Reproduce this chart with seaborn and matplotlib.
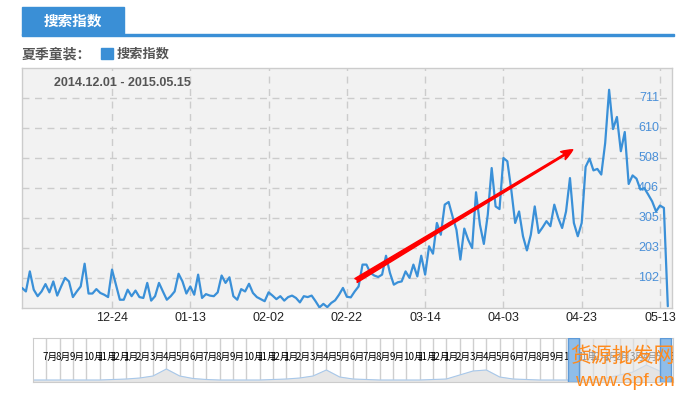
import numpy as np
import pandas as pd
import matplotlib
matplotlib.use("Agg")
import matplotlib.pyplot as plt
import matplotlib.dates as mdates
import matplotlib.transforms as mtransforms
from matplotlib.patches import Rectangle, FancyArrowPatch
import seaborn as sns

# daily search index 2014-12-01 .. 2015-05-15
search_index = [
    68, 56, 124, 62, 40, 56, 81, 53, 90, 42,
    73, 102, 90, 37, 56, 73, 150, 49, 49, 64,
    51, 45, 37, 130, 79, 28, 28, 62, 40, 59,
    37, 34, 85, 25, 40, 85, 56, 28, 40, 56,
    116, 90, 49, 73, 45, 113, 34, 47, 42, 40,
    53, 110, 85, 104, 40, 28, 64, 56, 82, 51,
    37, 30, 23, 53, 42, 30, 40, 25, 37, 42,
    34, 19, 40, 37, 42, 23, 2, 14, 3, 17,
    26, 45, 68, 38, 36, 56, 73, 147, 147, 119,
    110, 105, 113, 177, 119, 79, 87, 90, 124, 102,
    147, 107, 177, 113, 209, 184, 288, 248, 350, 359,
    310, 265, 164, 269, 231, 203, 392, 282, 217, 316,
    474, 344, 335, 508, 497, 401, 288, 327, 243, 195,
    248, 344, 254, 273, 294, 277, 350, 305, 271, 327,
    440, 288, 243, 288, 478, 506, 466, 471, 452, 559,
    739, 606, 647, 531, 596, 420, 449, 438, 401, 406,
    384, 361, 327, 347, 339, 6,
]
start_date = "2014-12-01"
tick_dates = ["2014-12-24", "2015-01-13", "2015-02-02", "2015-02-22",
              "2015-03-14", "2015-04-03", "2015-04-23", "2015-05-13"]
y_ticks = [101.6, 203.2, 304.8, 406.4, 508.0, 609.6, 711.2]
y_labels = ["102", "203", "305", "406", "508", "610", "711"]
y_max = 812.8

# red trend arrow drawn on the chart
trend_start = ("2015-02-24 08:00", 93)
trend_end = ("2015-04-20 17:00", 536)

# navigator strip: month labels and the tiny overview curve
nav_labels = ["7月", "8月", "9月", "10月", "11月", "12月",
              "1月", "2月", "3月", "4月", "5月", "6月"] * 4
nav_values = [1, 1, 1, 1, 1, 1, 1.5, 2, 3, 5, 12, 5, 2.5, 1.5, 1, 1, 1,
              1, 1.5, 2, 3, 5, 11, 4, 2, 1.5, 1, 1, 1, 1, 1.5, 2, 6, 10,
              11, 4, 2, 1.5, 1, 1, 1, 1, 1.5, 3, 6, 9, 16, 10, 2]

BLUE = "#3a8fd6"
LINE = "#3a90d8"
W, H = 687, 399


def box(x0, y0, x1, y1):
    return [x0 / W, 1 - y1 / H, (x1 - x0) / W, (y1 - y0) / H]


sns.set_style("white")
plt.rcParams["font.family"] = ["Liberation Sans", "Noto Sans CJK SC", "DejaVu Sans"]
cjk = ["Noto Sans CJK SC", "DejaVu Sans"]

fig = plt.figure(figsize=(W / 100, H / 100), dpi=100)

# header tab + rule
fig.patches.append(Rectangle((22 / W, 1 - 35 / H), 102 / W, 28 / H,
                             transform=fig.transFigure, color=BLUE))
fig.patches.append(Rectangle((22 / W, 1 - 36 / H), 652 / W, 2 / H,
                             transform=fig.transFigure, color=BLUE))
fig.text(73 / W, 1 - 21 / H, "搜索指数", color="white", fontsize=10.5,
         weight="bold", ha="center", va="center", family=cjk)
fig.text(22 / W, 1 - 54 / H, "夏季童装：", color="#555555", fontsize=10,
         weight="bold", ha="left", va="center", family=cjk)
fig.patches.append(Rectangle((101 / W, 1 - 59 / H), 12 / W, 11 / H,
                             transform=fig.transFigure, color=BLUE))
fig.text(117 / W, 1 - 54 / H, "搜索指数", color="#555555", fontsize=9.5,
         weight="bold", ha="left", va="center", family=cjk)

# main chart
dates = pd.date_range(start_date, periods=len(search_index), freq="D")
df = pd.DataFrame({"date": dates, "value": search_index})

ax = fig.add_axes(box(22, 68, 672, 308))
ax.set_facecolor("#f2f2f2")
sns.lineplot(data=df, x="date", y="value", ax=ax, color=LINE, linewidth=1.6, zorder=3)
ax.set_xlim(dates[0], dates[0] + pd.Timedelta(days=166.07))
ax.set_ylim(0, y_max)
ax.set_xticks(pd.to_datetime(tick_dates))
ax.xaxis.set_major_formatter(mdates.DateFormatter("%m-%d"))
ax.set_yticks(y_ticks)
ax.set_axisbelow(True)
ax.grid(True, color="#cccccc", linestyle=(0, (5, 4)), linewidth=1)
ax.tick_params(length=0, labelsize=9, colors="#222222", pad=3)
ax.tick_params(axis="y", labelleft=False)
ax.set_xlabel("")
ax.set_ylabel("")
for s in ax.spines.values():
    s.set_color("#cccccc")
    s.set_linewidth(1)

trans = mtransforms.blended_transform_factory(ax.transAxes, ax.transData)
for v, lab in zip(y_ticks, y_labels):
    ax.text(0.98, v, lab, transform=trans, ha="right", va="center",
            color="#4a90d9", fontsize=9, zorder=2)

ax.text(0.049, 0.9375, "2014.12.01 - 2015.05.15", transform=ax.transAxes,
        fontsize=9, weight="bold", color="#555555", va="center")

arrow = FancyArrowPatch(
    (mdates.date2num(pd.Timestamp(trend_start[0])), trend_start[1]),
    (mdates.date2num(pd.Timestamp(trend_end[0])), trend_end[1]),
    arrowstyle="fancy,head_length=0.75,head_width=0.6,tail_width=0.3",
    mutation_scale=11, color="#ff0000", zorder=4, shrinkA=0, shrinkB=0)
ax.add_patch(arrow)

# navigator strip
nav = fig.add_axes(box(33, 338, 673, 382))
nav.set_facecolor("white")
nav.set_xlim(0, 48)
nav.set_ylim(-1, 43)
nav.set_xticks([])
nav.set_yticks([])
for s in nav.spines.values():
    s.set_color("#cccccc")
for k in range(1, 48):
    nav.axvline(k, color="#cfcfcf", linewidth=1, zorder=0)
xs = np.arange(len(nav_values))
nav.fill_between(xs, nav_values, -1, color="#e6e6e6", zorder=1)
sns.lineplot(x=xs, y=nav_values, ax=nav, color="#a8c8ea", linewidth=0.8, zorder=2)
for k, lab in enumerate(nav_labels):
    nav.text(k + 0.72, 24, lab, fontsize=7, ha="left", va="center",
             color="black", family=cjk, clip_on=True, zorder=3)
nav.add_patch(Rectangle((40.1, -1), 7.8, 44, facecolor="#e4e4e4", alpha=0.65,
                        edgecolor="none", zorder=4))
for hx in (40.1, 47.0):
    nav.add_patch(Rectangle((hx, -1), 0.88, 44, facecolor="#8fbde9",
                            edgecolor="#5d9ad8", linewidth=1, zorder=5))

# site watermark in the corner
fig.text(622 / W, 1 - 356 / H, "货源批发网", color="#ff8a1c", fontsize=15,
         ha="center", va="center", family=cjk, zorder=10)
fig.text(625 / W, 1 - 381 / H, "www.6pf.cn", color="#ff8a1c", fontsize=14,
         ha="center", va="center", zorder=10)

fig.savefig("out.png", dpi=100)
